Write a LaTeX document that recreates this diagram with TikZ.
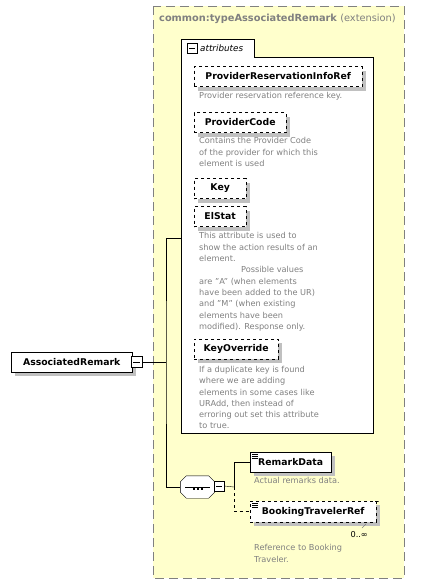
\documentclass[tikz,border=0pt]{standalone}
\usepackage{fontspec}
\setmainfont{DejaVu Sans}
\usetikzlibrary{shadows}

\definecolor{schemayellow}{RGB}{255,255,204}
\definecolor{descgray}{RGB}{128,128,128}
\definecolor{shadowgray}{RGB}{192,192,192}

\tikzset{
    elembox/.style={draw, fill=white, font=\fontsize{9.3}{11}\selectfont\bfseries, minimum height=20pt, inner xsep=3pt, inner ysep=0pt, anchor=west, drop shadow={shadow xshift=4pt, shadow yshift=-4pt, fill=shadowgray, opacity=1}},
    attrbox/.style={elembox, dashed},
    desctext/.style={anchor=north west, inner sep=0pt, align=left, text=descgray, font=\fontsize{8.2}{11.3}\selectfont},
    minusbox/.style={draw, fill=white, minimum size=10pt, inner sep=0pt, path picture={\draw ([xshift=2pt]path picture bounding box.west) -- ([xshift=-2pt]path picture bounding box.east);}},
}

\begin{document}
\begin{tikzpicture}[x=1pt, y=-1pt]
        \useasboundingbox (0,0) rectangle (447,584);

        % extension frame
        \draw[descgray, dash pattern=on 9pt off 5pt, fill=schemayellow] (153,6) rectangle (404,578);
        \node[anchor=west, inner sep=0pt, text=descgray, font=\fontsize{9.8}{12}\selectfont] (title) at (159,19) {\textbf{common:typeAssociatedRemark} (extension)};

        % attributes box
        \draw[fill=white] (181,39) -- (254,39) -- (254,57) -- (373,57) -- (373,433) -- (181,433) -- cycle;
        \node[minusbox] (attrminus) at (192,48) {};
        \node[anchor=west, inner sep=0pt, font=\fontsize{8.8}{10}\selectfont\itshape] (attrlabel) at (200,48) {attributes};

        % attributes
        \node[attrbox, minimum width=168pt] (provresref) at (194,76.5) {ProviderReservationInfoRef};
        \node[desctext] (provresrefdesc) at (199,92.5) {Provider reservation reference key.};
        \node[attrbox, minimum width=92pt] (provcode) at (194,122.5) {ProviderCode};
        \node[desctext] (provcodedesc) at (199,137.5) {Contains the Provider Code\\of the provider for which this\\element is used};
        \node[attrbox, minimum width=52pt] (key) at (194,188.5) {Key};
        \node[attrbox, minimum width=52pt] (elstat) at (194,216.5) {ElStat};
        \node[desctext] (elstatdesc) at (199,232.5) {This attribute is used to\\show the action results of an\\element.\\\hspace*{42pt}Possible values\\are "A" (when elements\\have been added to the UR)\\and "M" (when existing\\elements have been\\modified). Response only.};
        \node[attrbox, minimum width=84pt] (keyoverride) at (194,349) {KeyOverride};
        \node[desctext] (keyoverridedesc) at (199,366) {If a duplicate key is found\\where we are adding\\elements in some cases like\\URAdd, then instead of\\erroring out set this attribute\\to true.};

        % main element
        \node[elembox, minimum width=121pt] (assocremark) at (11,362) {AssociatedRemark};
        \node[minusbox, minimum size=11pt, thick] (assocminus) at (136.5,362) {};

        % sequence
        \node[minimum width=34pt, minimum height=22pt, inner sep=0pt] (seq) at (197.5,487) {};
        \fill[shadowgray, shift={(4,4)}] ([xshift=6pt]seq.north west) -- ([xshift=-6pt]seq.north east) -- ([yshift=-6pt]seq.north east) -- ([yshift=6pt]seq.south east) -- ([xshift=-6pt]seq.south east) -- ([xshift=6pt]seq.south west) -- ([yshift=6pt]seq.south west) -- ([yshift=-6pt]seq.north west) -- cycle;
        \draw[fill=white] ([xshift=6pt]seq.north west) -- ([xshift=-6pt]seq.north east) -- ([yshift=-6pt]seq.north east) -- ([yshift=6pt]seq.south east) -- ([xshift=-6pt]seq.south east) -- ([xshift=6pt]seq.south west) -- ([yshift=6pt]seq.south west) -- ([yshift=-6pt]seq.north west) -- cycle;
        \draw ([xshift=5pt]seq.west) -- ([xshift=-5pt]seq.east);
        \foreach \dx in {-5,-1,3}
            \fill ([xshift=\dx pt, yshift=-1pt]seq.center) rectangle ++(2,2);
        \node[minusbox] (seqminus) at (219,486) {};

        % child elements
        \node[elembox, minimum width=81pt] (remarkdata) at (250,462) {RemarkData};
        \node[desctext] (remarkdatadesc) at (254,477.5) {Actual remarks data.};
        \node[elembox, dashed, minimum width=126pt, minimum height=21pt] (bookingtravref) at (250,511.5) {BookingTravelerRef};
        \draw[dashed] ([xshift=-1pt]bookingtravref.north east) -| ([xshift=2pt,yshift=-3pt]bookingtravref.north east);
        \draw[descgray] (366,524) -- (362,528);
        \node[anchor=east, inner sep=0pt, font=\fontsize{8.2}{10}\selectfont] (occurs) at (368,535) {0..∞};
        \node[desctext] (bookingtravrefdesc) at (254,544.5) {Reference to Booking\\Traveler.};

        % element icons
        \foreach \elem in {remarkdata,bookingtravref}
            \foreach \k in {2,4,6}
                \draw ([xshift=2pt,yshift=-\k pt]\elem.north west) -- ++(6,0);

        % connectors
        \coordinate (attrjoin) at (181,238);
        \coordinate (fork) at (166,362);
        \coordinate (choice) at (234,487);
        \draw (assocminus.east) -- (fork);
        \draw (attrjoin) -| (fork) |- (seq.west);
        \draw (seqminus.east) -- (choice);
        \draw (choice) |- (remarkdata.west);
        \draw[dashed] (choice) |- (bookingtravref.west);

    \end{tikzpicture}
\end{document}
